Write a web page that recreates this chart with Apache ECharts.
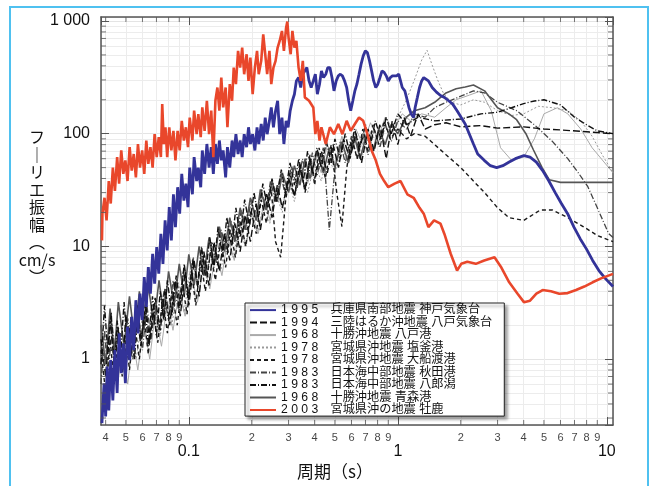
<!DOCTYPE html>
<html><head><meta charset="utf-8">
<script src="https://cdn.jsdelivr.net/npm/echarts/dist/echarts.min.js"></script>
<style>html,body{margin:0;padding:0;background:#fff}#c{width:654px;height:486px}</style>
</head><body><div id="c"></div>
<script>
// ---------- axis ranges & tick labels ----------
const X_RANGE = [0.038, 10.7];
const Y_RANGE = [0.26, 1085];
const xMinorTicks = [0.04,0.05,0.06,0.07,0.08,0.09,0.2,0.3,0.4,0.5,0.6,0.7,0.8,0.9,2,3,4,5,6,7,8,9];
const xMinorLabels = ['4','5','6','7','8','9','2','3','4','5','6','7','8','9','2','3','4','5','6','7','8','9'];
const yMinorTicks = [0.3,0.4,0.5,0.6,0.7,0.8,0.9,2,3,4,5,6,7,8,9,20,30,40,50,60,70,80,90,200,300,400,500,600,700,800,900];

// ---------- series names (legend order) ----------
const seriesNames = [
  '1 9 9 5\u3000兵庫県南部地震 神戸気象台',
  '1 9 9 4\u3000三陸はるか沖地震 八戸気象台',
  '1 9 6 8\u3000十勝沖地震 八戸港',
  '1 9 7 8\u3000宮城県沖地震 塩釜港',
  '1 9 7 8\u3000宮城県沖地震 大船渡港',
  '1 9 8 3\u3000日本海中部地震 秋田港',
  '1 9 8 3\u3000日本海中部地震 八郎潟',
  '1 9 6 8\u3000十勝沖地震 青森港',
  '2 0 0 3\u3000宮城県沖の地震 牡鹿'
];

// ---------- data: [period (s), Fourier amplitude (cm/s)] ----------
const kobe1995 = [
[0.0384,0.27],[0.0393,0.61],[0.0400,0.31],[0.0407,0.86],[0.0414,0.35],[0.0423,0.98],[0.0433,0.43],[0.0443,1.2],[0.0454,0.50],[0.0464,1.69],
[0.0475,0.75],[0.0486,1.38],[0.0497,0.61],[0.0509,1.93],[0.0521,0.98],[0.0533,2.37],[0.0545,1.2],[0.0558,3.33],[0.0571,1.69],[0.0584,3.8],
[0.0598,2.21],[0.0612,5.35],[0.0626,2.9],[0.0640,6.56],[0.0655,3.8],[0.0671,8.6],[0.0686,4.67],[0.0702,9.86],[0.0718,5.73],[0.0735,12.9],
[0.0752,7.0],[0.0770,17],[0.0788,9.2],[0.0806,22.3],[0.0825,11.3],[0.0844,29],[0.0863,14.8],[0.0884,33.5],[0.0904,19.5],[0.0925,44],
[0.0947,25.5],[0.0968,36],[0.0991,22.3],[0.101,50],[0.104,29],[0.106,62],[0.109,38],[0.111,50],[0.114,33.5],[0.116,71],
[0.119,44],[0.122,81],[0.125,50],[0.128,76],[0.131,44],[0.134,81],[0.137,54],[0.140,87],[0.143,58],[0.146,71],
[0.150,41],[0.153,76],[0.157,50],[0.161,87],[0.164,62],[0.168,99],[0.172,66],[0.176,87],[0.180,62],[0.184,99],
[0.189,76],[0.193,114],[0.197,81],[0.202,99],[0.207,71],[0.212,114],[0.216,81],[0.222,122],[0.227,87],[0.232,139],
[0.237,99],[0.243,130],[0.248,171],[0.254,114],[0.260,160],[0.266,196],[0.272,99],[0.279,139],[0.285,81],[0.292,130],
[0.2985,114],[0.3055,160],[0.313,196],[0.320,224],[0.327,294],[0.335,315],[0.343,257],[0.351,337],[0.359,361],[0.367,386],
[0.376,294],[0.385,257],[0.394,294],[0.403,337],[0.412,224],[0.422,275],[0.431,361],[0.441,315],[0.452,337],[0.462,386],
[0.473,386],[0.484,315],[0.495,240],[0.507,294],[0.519,326],[0.531,337],[0.543,326],[0.556,294],[0.569,257],[0.582,196],
[0.595,160],[0.609,196],[0.623,240],[0.637,275],[0.652,337],[0.667,414],[0.683,490],[0.699,543],[0.715,525],[0.732,443],
[0.749,361],[0.766,294],[0.784,257],[0.802,275],[0.821,315],[0.840,361],[0.860,350],[0.880,326],[0.900,294],[0.921,315],
[0.942,326],[0.986,326],[1.01,337],[1.03,294],[1.05,257],[1.08,240],[1.10,210],[1.13,171],[1.16,149],[1.19,139],
[1.21,171],[1.24,210],[1.27,257],[1.30,294],[1.33,315],[1.40,294],[1.46,257],[1.53,234],[1.60,218],[1.67,210],
[1.75,196],[1.83,183],[1.92,160],[2.01,139],[2.10,122],[2.20,99],[2.30,81],[2.41,66],[2.59,58],[2.77,52],
[2.97,50],[3.18,52],[3.41,56],[3.65,60],[4.01,64],[4.29,62],[4.60,56],[4.93,47],[5.28,38],[5.66,30],
[6.06,24],[6.49,19.5],[6.96,14.8],[7.45,11.7],[7.98,9.5],[8.55,7.5],[9.16,6.1],[9.82,5.2],[10.7,4.4]
];
const sanriku1994 = [
[0.038,1.5],[0.040,0.7],[0.042,2.2],[0.044,0.9],[0.046,1.8],[0.048,0.8],[0.050,2.5],[0.053,1.1],[0.056,2.8],[0.059,1.3],
[0.062,3.2],[0.065,1.4],[0.069,3.5],[0.073,1.8],[0.077,4.2],[0.081,2.0],[0.086,5.0],[0.091,2.4],[0.096,6.0],[0.100,3.0],
[0.106,7.5],[0.112,3.6],[0.118,9.0],[0.125,4.5],[0.132,11],[0.140,6],[0.148,13],[0.157,7.5],[0.166,16],[0.176,9],
[0.186,19],[0.197,11],[0.21,24],[0.22,14],[0.235,30],[0.25,18],[0.265,35],[0.28,22],[0.30,40],[0.32,28],
[0.34,50],[0.36,32],[0.38,60],[0.40,40],[0.43,70],[0.46,45],[0.49,80],[0.52,50],[0.55,90],[0.59,60],
[0.63,100],[0.67,55],[0.72,110],[0.77,70],[0.82,120],[0.88,60],[0.94,130],[1.0,80],[1.07,140],[1.15,95],
[1.25,150],[1.35,110],[1.5,120],[1.7,125],[2.0,115],[2.5,118],[3.0,112],[4.0,115],[5.0,110],[6.0,108],[8.0,104],[10.7,100]
];
const hachinohePort1968 = [
[0.045,0.5],[0.048,1.2],[0.051,0.6],[0.054,1.5],[0.057,0.8],[0.061,2.0],[0.065,1.0],[0.069,2.5],[0.074,1.3],[0.079,3.2],
[0.084,1.8],[0.09,4.0],[0.096,2.4],[0.103,5.5],[0.11,3.2],[0.118,7],[0.126,4.2],[0.135,9],[0.144,5.5],[0.154,12],
[0.165,7.5],[0.176,16],[0.188,10],[0.2,20],[0.215,13],[0.23,26],[0.245,17],[0.26,33],[0.28,22],[0.30,42],
[0.32,28],[0.345,52],[0.37,36],[0.40,65],[0.43,45],[0.46,80],[0.50,55],[0.54,95],[0.58,65],[0.63,110],
[0.68,80],[0.74,125],[0.8,90],[0.87,140],[0.95,110],[1.05,150],[1.15,130],[1.3,150],[1.5,140],[1.7,170],
[1.9,200],[2.2,220],[2.5,240],[2.8,160],[3.1,75],[3.5,58],[4.0,62],[4.5,90],[5.0,150],[5.8,170],
[6.5,150],[7.5,110],[8.5,75],[10.7,45]
];
const shiogama1978 = [
[0.05,0.8],[0.053,2.0],[0.056,1.0],[0.06,2.4],[0.064,1.3],[0.068,3.0],[0.073,1.6],[0.078,3.8],[0.083,2.0],[0.089,4.8],
[0.095,2.6],[0.101,6.0],[0.108,3.4],[0.116,7.5],[0.124,4.5],[0.133,9.5],[0.142,6],[0.152,12],[0.163,8],[0.174,15],
[0.186,10],[0.2,19],[0.213,13],[0.228,24],[0.244,16],[0.26,30],[0.28,20],[0.30,38],[0.32,25],[0.34,45],
[0.37,30],[0.40,55],[0.43,38],[0.46,65],[0.5,45],[0.54,75],[0.58,55],[0.63,90],[0.68,65],[0.74,105],
[0.8,80],[0.87,120],[0.94,100],[1.02,150],[1.1,200],[1.2,300],[1.3,450],[1.38,550],[1.45,420],[1.55,300],
[1.65,230],[1.8,190],[2.0,180],[2.3,200],[2.6,190],[3.0,160],[3.5,145],[4.0,150],[4.7,175],[5.5,170],
[6.5,160],[7.5,130],[8.5,95],[9.5,65],[10.7,45]
];
const ofunato1978 = [
[0.038,1.2],[0.040,0.5],[0.042,1.5],[0.044,0.6],[0.046,1.9],[0.048,0.7],[0.050,1.6],[0.052,0.8],[0.055,2.1],[0.058,1.0],
[0.061,2.4],[0.064,1.1],[0.067,2.8],[0.071,1.4],[0.075,3.4],[0.079,1.7],[0.083,4.0],[0.088,2.0],[0.093,4.8],[0.098,2.5],
[0.103,6.0],[0.108,3.0],[0.114,7.5],[0.12,4.0],[0.127,9.0],[0.134,5.0],[0.142,11],[0.15,6.5],[0.158,14],[0.167,8],
[0.177,17],[0.187,10],[0.198,21],[0.21,13],[0.222,26],[0.235,16],[0.248,32],[0.26,11],[0.275,8],[0.29,25],
[0.305,45],[0.32,28],[0.34,55],[0.36,30],[0.38,65],[0.40,35],[0.42,75],[0.45,40],[0.48,80],[0.51,30],
[0.54,15],[0.57,50],[0.60,90],[0.64,60],[0.68,110],[0.72,70],[0.76,120],[0.81,80],[0.86,130],[0.92,90],
[1.0,110],[1.1,90],[1.2,100],[1.35,95],[1.5,80],[1.7,65],[2.0,50],[2.3,38],[2.6,30],[3.0,22],
[3.4,18],[4.0,17],[4.8,21],[5.5,21],[6.5,18],[7.7,15],[9.0,12.5],[10.7,11]
];
const akitaPort1983 = [
[0.038,0.6],[0.0395,1.8],[0.041,0.7],[0.043,2.0],[0.045,0.9],[0.047,1.7],[0.049,0.8],[0.051,2.3],[0.054,1.0],[0.057,2.6],
[0.060,1.2],[0.063,3.0],[0.066,1.5],[0.069,3.2],[0.072,1.8],[0.076,4.0],[0.080,2.2],[0.084,5.0],[0.089,2.8],[0.094,6.0],
[0.099,3.5],[0.104,7.5],[0.11,4.5],[0.116,9],[0.122,5.5],[0.129,11],[0.136,7],[0.143,14],[0.151,9],[0.159,17],
[0.168,11],[0.178,21],[0.188,14],[0.199,26],[0.21,17],[0.222,32],[0.234,21],[0.246,38],[0.26,25],[0.275,44],
[0.29,28],[0.31,52],[0.33,33],[0.35,60],[0.37,38],[0.39,68],[0.41,42],[0.44,75],[0.47,14],[0.50,48],
[0.53,85],[0.56,55],[0.60,95],[0.64,60],[0.68,100],[0.72,65],[0.77,110],[0.82,75],[0.87,120],[0.93,85],
[1.0,130],[1.1,110],[1.2,150],[1.35,140],[1.5,170],[1.7,190],[2.0,215],[2.3,240],[2.6,230],[3.0,190],
[3.7,160],[4.5,120],[5.5,85],[6.5,60],[7.3,45],[8.1,34],[9.0,22],[10.2,13],[10.7,12]
];
const hachirogata1983 = [
[0.038,0.9],[0.0395,3.0],[0.041,1.1],[0.0425,2.6],[0.044,0.8],[0.0455,2.2],[0.047,1.0],[0.049,3.2],[0.051,1.2],[0.053,2.4],
[0.055,1.0],[0.057,3.0],[0.059,1.5],[0.062,2.8],[0.064,1.3],[0.067,3.6],[0.070,1.6],[0.073,4.0],[0.076,2.2],[0.079,5.0],
[0.083,2.4],[0.087,5.5],[0.091,3.0],[0.095,7.0],[0.10,3.5],[0.105,8.0],[0.11,4.5],[0.115,10],[0.12,5.5],[0.126,12],
[0.132,6.5],[0.138,15],[0.145,8],[0.152,18],[0.16,10],[0.168,22],[0.176,12],[0.185,26],[0.195,15],[0.205,30],
[0.215,18],[0.226,36],[0.238,22],[0.25,40],[0.263,25],[0.277,48],[0.29,30],[0.305,55],[0.32,35],[0.336,60],
[0.353,38],[0.37,70],[0.39,45],[0.41,75],[0.43,50],[0.455,85],[0.48,55],[0.50,90],[0.53,60],[0.56,100],
[0.59,65],[0.62,110],[0.66,75],[0.70,120],[0.74,80],[0.78,130],[0.83,90],[0.88,140],[0.93,100],[1.0,150],
[1.1,120],[1.25,140],[1.5,130],[2.0,135],[2.5,150],[3.0,155],[3.5,170],[4.0,185],[4.5,195],[5.0,200],
[6.0,180],[7.0,140],[8.0,120],[9.0,106],[10.7,100]
];
const aomoriPort1968 = [
[0.038,2.0],[0.040,0.9],[0.042,2.8],[0.044,1.1],[0.046,3.2],[0.049,1.3],[0.052,3.6],[0.055,1.5],[0.058,4.0],[0.061,1.8],
[0.064,4.5],[0.068,2.0],[0.072,5.0],[0.076,2.4],[0.080,6.0],[0.085,3.0],[0.09,7.0],[0.095,3.6],[0.10,8.5],[0.106,4.5],
[0.112,10],[0.118,5.5],[0.125,12],[0.132,7],[0.14,15],[0.148,9],[0.157,18],[0.166,11],[0.176,22],[0.186,14],
[0.197,27],[0.21,17],[0.22,32],[0.235,21],[0.25,38],[0.265,25],[0.28,45],[0.30,30],[0.32,52],[0.34,35],
[0.36,60],[0.38,40],[0.41,68],[0.44,45],[0.47,75],[0.50,50],[0.54,85],[0.58,55],[0.62,95],[0.66,60],
[0.71,100],[0.76,70],[0.81,110],[0.87,80],[0.93,120],[1.0,100],[1.1,140],[1.2,160],[1.35,170],[1.5,190],
[1.7,230],[1.9,250],[2.1,260],[2.3,270],[2.6,240],[3.0,170],[3.4,150],[3.7,133],[4.1,100],[4.45,72],
[4.9,50],[5.3,39],[6.0,37],[7.0,37],[8.5,37],[10.7,37]
];
const oshika2003 = [
[0.0384,11.3],[0.0386,19.5],[0.0395,27],[0.0404,17],[0.0414,38],[0.0423,24],[0.0433,50],[0.0443,31],[0.0454,62],[0.0464,36],
[0.0475,71],[0.0486,44],[0.0497,58],[0.0509,38],[0.0521,76],[0.0533,47],[0.0545,66],[0.0558,41],[0.0571,81],[0.0584,50],
[0.0598,71],[0.0612,44],[0.0626,87],[0.0640,54],[0.0655,76],[0.0671,50],[0.0686,99],[0.0702,62],[0.0718,93],[0.0735,62],
[0.0746,183],[0.0759,81],[0.0773,114],[0.0788,62],[0.0806,114],[0.0825,71],[0.0844,106],[0.0863,58],[0.0884,106],[0.0904,71],
[0.0925,130],[0.0947,87],[0.0968,114],[0.0991,76],[0.101,139],[0.104,87],[0.106,160],[0.109,99],[0.111,149],[0.114,93],
[0.116,171],[0.119,106],[0.122,196],[0.125,99],[0.128,160],[0.131,62],[0.134,196],[0.137,257],[0.140,160],[0.143,315],
[0.146,171],[0.150,257],[0.153,114],[0.157,275],[0.161,196],[0.164,386],[0.168,275],[0.172,543],[0.176,386],[0.180,581],
[0.184,337],[0.189,507],[0.193,294],[0.197,474],[0.202,224],[0.207,386],[0.212,543],[0.216,337],[0.222,443],[0.227,762],
[0.232,507],[0.237,337],[0.243,543],[0.248,275],[0.254,386],[0.260,443],[0.266,581],[0.272,665],[0.279,816],[0.285,543],
[0.292,873],[0.296,987],[0.300,712],[0.307,507],[0.313,816],[0.320,581],[0.327,665],[0.335,386],[0.343,294],[0.351,443],
[0.359,210],[0.376,196],[0.394,171],[0.403,99],[0.412,130],[0.422,87],[0.431,114],[0.452,81],[0.473,114],[0.495,99],
[0.519,122],[0.543,99],[0.569,130],[0.595,106],[0.623,122],[0.652,139],[0.683,130],[0.715,99],[0.749,71],[0.784,58],
[0.821,44],[0.860,38],[0.900,33.5],[0.965,36],[1.03,38],[1.11,29],[1.19,27],[1.27,22],[1.33,19.5],[1.40,14.8],
[1.49,17],[1.60,15.9],[1.67,12.9],[1.79,8.6],[1.92,6.1],[2.01,7],[2.15,7.3],[2.36,7],[2.59,7.5],[2.90,8],
[3.11,6.6],[3.41,4.8],[3.74,3.8],[4.01,3.2],[4.29,3.3],[4.60,3.8],[4.93,4.1],[5.40,4],[5.92,3.8],[6.49,3.85],
[7.12,4.1],[7.80,4.4],[8.55,4.8],[9.38,5.2],[10.7,5.7]
];

// ---------- chart ----------
const FONT = "'Liberation Sans', Arial, 'Noto Sans CJK JP', sans-serif";
const JFONT = "'Noto Sans CJK JP', 'Liberation Sans', sans-serif";
const chart = echarts.init(document.getElementById('c'), null, {renderer: 'canvas'});

function lineS(name, data, color, width, type, z) {
  return {
    name: name, type: 'line', data: data, symbol: 'none', showSymbol: false,
    lineStyle: {color: color, width: width, type: type}, itemStyle: {color: color},
    z: z, silent: true, animation: false
  };
}
function fmtNum(v) { return String(parseFloat(Number(v).toPrecision(6))); }

const series = [
  lineS(seriesNames[2], hachinohePort1968, '#aaaaaa', 1, 'solid', 1),
  lineS(seriesNames[3], shiogama1978, '#999999', 1, [2, 2], 1),
  lineS(seriesNames[5], akitaPort1983, '#444444', 1.3, [6, 2, 1, 2], 1),
  lineS(seriesNames[7], aomoriPort1968, '#555555', 1.6, 'solid', 1),
  lineS(seriesNames[4], ofunato1978, '#1a1a1a', 1.4, [4, 3], 2),
  lineS(seriesNames[1], sanriku1994, '#111111', 1.4, [7, 3], 2),
  lineS(seriesNames[6], hachirogata1983, '#111111', 1.4, [6, 2, 1, 2], 2),
  lineS(seriesNames[0], kobe1995, '#333399', 2.8, 'solid', 3),
  lineS(seriesNames[8], oshika2003, '#e9472b', 2.6, 'solid', 3)
];
// faint minor grid lines
series[0].markLine = {
  silent: true, symbol: 'none', label: {show: false}, animation: false, z: 0,
  lineStyle: {color: '#ececec', width: 1, type: 'solid'},
  data: xMinorTicks.map(v => ({xAxis: v})).concat(yMinorTicks.map(v => ({yAxis: v})))
};
// minor ticks + minor tick labels
const tickColor = '#555';
series.push({
  type: 'scatter', silent: true, clip: false, z: 6, animation: false,
  data: xMinorTicks.map((v, i) => [v, Y_RANGE[0], xMinorLabels[i]]),
  symbol: 'rect', symbolSize: [1, 5], symbolOffset: [0, -2.5], itemStyle: {color: tickColor},
  label: {show: true, position: 'bottom', distance: 7, formatter: p => p.value[2],
          fontSize: 11, color: '#111', fontFamily: FONT}
});
series.push({
  type: 'scatter', silent: true, clip: false, z: 6, animation: false,
  data: xMinorTicks.map(v => [v, Y_RANGE[1]]),
  symbol: 'rect', symbolSize: [1, 5], symbolOffset: [0, 2.5], itemStyle: {color: tickColor}
});
series.push({
  type: 'scatter', silent: true, clip: false, z: 6, animation: false,
  data: yMinorTicks.map(v => [X_RANGE[0], v]),
  symbol: 'rect', symbolSize: [5, 1], symbolOffset: [2.5, 0], itemStyle: {color: tickColor}
});
series.push({
  type: 'scatter', silent: true, clip: false, z: 6, animation: false,
  data: yMinorTicks.map(v => [X_RANGE[1], v]),
  symbol: 'rect', symbolSize: [5, 1], symbolOffset: [-2.5, 0], itemStyle: {color: tickColor}
});

const axisLineStyle = {show: true, lineStyle: {color: '#555', width: 1.5}};
const majorTick = {show: true, inside: true, length: 8, lineStyle: {color: '#555', width: 1}};

chart.setOption({
  animation: false,
  backgroundColor: '#ffffff',
  grid: {left: 101, right: 41, top: 17, bottom: 61, containLabel: false},
  xAxis: [
    {type: 'log', logBase: 10, min: X_RANGE[0], max: X_RANGE[1], position: 'bottom',
     axisLine: axisLineStyle, axisTick: majorTick,
     axisLabel: {margin: 19, fontSize: 16, color: '#111', fontFamily: FONT,
                 showMinLabel: false, showMaxLabel: false, formatter: v => fmtNum(v)},
     splitLine: {show: true, lineStyle: {color: '#e4e4e4', width: 1}}},
    {type: 'log', logBase: 10, min: X_RANGE[0], max: X_RANGE[1], position: 'top',
     axisLine: axisLineStyle, axisTick: majorTick, axisLabel: {show: false}, splitLine: {show: false}}
  ],
  yAxis: [
    {type: 'log', logBase: 10, min: Y_RANGE[0], max: Y_RANGE[1], position: 'left',
     axisLine: axisLineStyle, axisTick: majorTick,
     axisLabel: {margin: 11, fontSize: 16, color: '#111', fontFamily: FONT,
                 showMinLabel: false, showMaxLabel: false,
                 formatter: v => { const s = fmtNum(v); return s === '1000' ? '1 000' : s; }},
     splitLine: {show: true, lineStyle: {color: '#e4e4e4', width: 1}}},
    {type: 'log', logBase: 10, min: Y_RANGE[0], max: Y_RANGE[1], position: 'right',
     axisLine: axisLineStyle, axisTick: majorTick, axisLabel: {show: false}, splitLine: {show: false}}
  ],
  legend: {
    data: seriesNames, orient: 'vertical', left: 245, top: 303, z: 20,
    width: 280, padding: [1, 12, 0, 4], itemGap: 0.3, itemWidth: 26, itemHeight: 12,
    backgroundColor: '#ffffff', borderColor: '#222', borderWidth: 1,
    shadowColor: 'rgba(0,0,0,0.45)', shadowBlur: 3, shadowOffsetX: 3, shadowOffsetY: 3,
    itemStyle: {opacity: 0},
    textStyle: {fontSize: 12.2, lineHeight: 12, color: '#111', fontFamily: FONT},
    selectedMode: false
  },
  graphic: [
    {type: 'rect', silent: true, z: 100,
     shape: {x: 10, y: 7, width: 638, height: 500},
     style: {fill: null, stroke: '#4fc1f0', lineWidth: 2}},
    {type: 'text', silent: true, z: 100, x: 37, y: 207,
     style: {text: 'フ\n｜\nリ\nエ\n振\n幅\n︵\ncm/s\n︶', textAlign: 'center', textVerticalAlign: 'middle',
             font: '16px ' + JFONT, lineHeight: 17.5, fill: '#111'}},
    {type: 'text', silent: true, z: 100, x: 335, y: 472,
     style: {text: '周期（s）', textAlign: 'center', textVerticalAlign: 'middle',
             font: '17px ' + JFONT, fill: '#111'}}
  ],
  series: series
});
</script></body></html>
